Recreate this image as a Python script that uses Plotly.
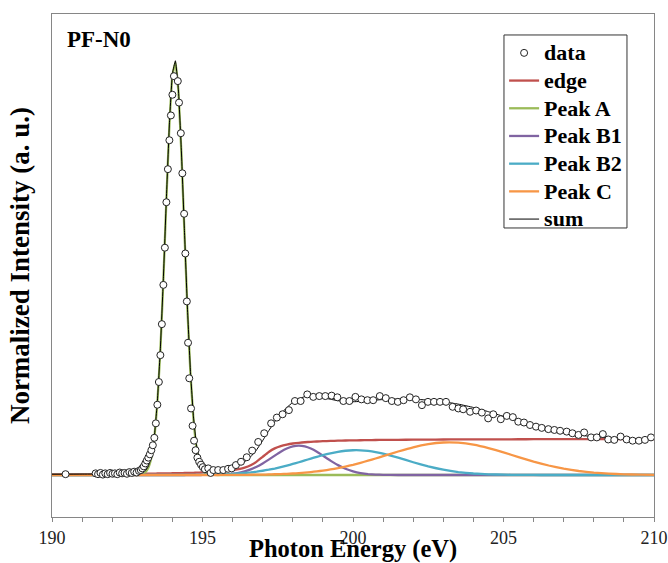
import plotly.graph_objects as go
import numpy as np

# ---------------- data ----------------
data_energy = [190.45, 191.45, 191.53, 191.61, 191.69, 191.77, 191.85, 191.93, 192.01, 192.09,
               192.17, 192.25, 192.33, 192.41, 192.49, 192.57, 192.65, 192.73, 192.81, 192.89,
               192.95, 193.00, 193.05, 193.10, 193.15, 193.20, 193.25, 193.30, 193.35, 193.40,
               193.45, 193.50, 193.55, 193.60, 193.65, 193.70, 193.75, 193.80, 193.85, 193.90,
               193.95, 194.00, 194.05, 194.18, 194.22, 194.28, 194.33, 194.39, 194.43, 194.48,
               194.52, 194.56, 194.62, 194.67, 194.72, 194.77, 194.83, 194.89, 194.95, 195.01,
               195.08, 195.19, 195.27, 195.36, 195.52, 195.69, 195.85,
               195.97, 196.11, 196.28, 196.47, 196.65, 196.85, 197.05, 197.28, 197.47, 197.66,
               197.87, 198.07, 198.26, 198.48, 198.68, 198.88, 199.08, 199.29, 199.48, 199.68,
               199.88, 200.08, 200.28, 200.48, 200.67, 200.89, 201.09, 201.29, 201.49, 201.68,
               201.89, 202.09, 202.29, 202.49, 202.69, 202.89, 203.09, 203.31, 203.50, 203.66,
               203.89, 204.09, 204.28, 204.49, 204.66, 204.91, 205.11, 205.31, 205.49, 205.68,
               205.88, 206.08, 206.27, 206.49, 206.69, 206.88, 207.10, 207.29, 207.49, 207.68,
               207.91, 208.10, 208.30, 208.48, 208.68, 208.89, 209.09, 209.29, 209.50, 209.70,
               209.90]
data_intensity = [0.002, 0.004, 0.002, 0.005, 0.001, 0.004, 0.002, 0.005, 0.003, 0.004,
                  0.002, 0.006, 0.004, 0.005, 0.003, 0.007, 0.005, 0.008, 0.006, 0.010,
                  0.012, 0.016, 0.021, 0.028, 0.035, 0.042, 0.050, 0.060, 0.072, 0.090,
                  0.125, 0.170, 0.225, 0.290, 0.365, 0.460, 0.550, 0.660, 0.740, 0.810,
                  0.870, 0.920, 0.965, 0.953, 0.901, 0.827, 0.730, 0.632, 0.536, 0.420,
                  0.320, 0.234, 0.161, 0.119, 0.083, 0.060, 0.042, 0.032, 0.025, 0.019,
                  0.014, 0.016, 0.005, 0.012, 0.012, 0.012, 0.015,
                  0.016, 0.024, 0.032, 0.043, 0.059, 0.080, 0.101, 0.125, 0.139, 0.147,
                  0.157, 0.179, 0.179, 0.195, 0.189, 0.191, 0.191, 0.192, 0.188, 0.179,
                  0.179, 0.189, 0.183, 0.181, 0.181, 0.191, 0.186, 0.179, 0.177, 0.181,
                  0.188, 0.183, 0.169, 0.177, 0.177, 0.177, 0.177, 0.165, 0.161, 0.159,
                  0.153, 0.156, 0.151, 0.137, 0.147, 0.135, 0.143, 0.140, 0.129, 0.127,
                  0.121, 0.117, 0.114, 0.111, 0.109, 0.107, 0.105, 0.101, 0.097, 0.103,
                  0.091, 0.091, 0.099, 0.086, 0.085, 0.093, 0.086, 0.083, 0.083, 0.085,
                  0.091]

fit_energy = [190.0, 191.0, 192.0, 192.5,
              192.8, 192.9, 193.0, 193.1, 193.2, 193.3, 193.4, 193.5, 193.6, 193.7, 193.8, 193.9,
              194.0, 194.1, 194.2, 194.3, 194.4, 194.5, 194.6, 194.7, 194.8, 194.9, 195.0, 195.1,
              195.2, 195.3, 195.4,
              195.6, 195.8, 196.0, 196.2, 196.4, 196.6, 196.8, 197.0, 197.2, 197.4, 197.6, 197.8,
              198.0, 198.2, 198.4, 198.6, 198.8, 199.0,
              199.25, 199.5, 199.75, 200.0, 200.25, 200.5, 200.75, 201.0,
              201.5, 202.0, 202.5, 203.0, 203.5, 204.0, 204.5, 205.0, 205.5, 206.0, 206.5, 207.0,
              207.5, 208.0, 208.5, 209.0, 209.5, 210.0]

edge = [0.0018, 0.0021, 0.0025, 0.0028,
        0.0030, 0.0030, 0.0031, 0.0032, 0.0033, 0.0034, 0.0035, 0.0036, 0.0037, 0.0038, 0.0039, 0.0040,
        0.0042, 0.0043, 0.0045, 0.0046, 0.0048, 0.0050, 0.0052, 0.0054, 0.0056, 0.0059, 0.0062, 0.0065,
        0.0069, 0.0073, 0.0077,
        0.0087, 0.0101, 0.0118, 0.0144, 0.0180, 0.0236, 0.0323, 0.0440, 0.0557, 0.0644, 0.0700, 0.0736,
        0.0762, 0.0780, 0.0793, 0.0803, 0.0811, 0.0818,
        0.0825, 0.0830, 0.0835, 0.0838, 0.0841, 0.0844, 0.0847, 0.0849,
        0.0852, 0.0855, 0.0857, 0.0859, 0.0861, 0.0862, 0.0863, 0.0864, 0.0865, 0.0866, 0.0867, 0.0867,
        0.0868, 0.0869, 0.0869, 0.0870, 0.0870, 0.0870]

peak_a = [0, 0, 0, 0,
          0.0002, 0.0007, 0.0023, 0.0068, 0.0178, 0.042, 0.090, 0.174, 0.302, 0.472, 0.665, 0.845,
          0.967, 0.998, 0.928, 0.777, 0.587, 0.399, 0.245, 0.135, 0.067, 0.030, 0.0122, 0.0045,
          0.0015, 0.0004, 0.0001,
          0, 0, 0, 0, 0, 0, 0, 0, 0, 0, 0, 0, 0, 0, 0, 0, 0, 0,
          0, 0, 0, 0, 0, 0, 0, 0,
          0, 0, 0, 0, 0, 0, 0, 0, 0, 0, 0, 0, 0, 0, 0, 0, 0, 0]

peak_b1 = [0, 0, 0, 0,
           0, 0, 0, 0, 0, 0, 0, 0, 0, 0, 0, 0,
           0, 0, 0, 0, 0, 0, 0, 0, 0, 0, 0.0001, 0.0001,
           0.0001, 0.0002, 0.0004,
           0.0009, 0.0017, 0.0031, 0.0054, 0.0088, 0.0136, 0.0200, 0.0280, 0.0372, 0.0470, 0.0563, 0.0640,
           0.0692, 0.0710, 0.0692, 0.0640, 0.0563, 0.0470,
           0.0348, 0.0239, 0.0151, 0.0088, 0.0047, 0.0023, 0.0011, 0.0004,
           0, 0, 0, 0, 0, 0, 0, 0, 0, 0, 0, 0, 0, 0, 0, 0, 0, 0]

peak_b2 = [0, 0, 0, 0,
           0, 0, 0, 0, 0, 0, 0, 0, 0, 0, 0, 0,
           0, 0, 0, 0, 0, 0.0002, 0.0002, 0.0003, 0.0003, 0.0004, 0.0005, 0.0006,
           0.0007, 0.0008, 0.0010,
           0.0015, 0.0020, 0.0027, 0.0037, 0.0049, 0.0063, 0.0081, 0.0103, 0.0128, 0.0157, 0.0190, 0.0227,
           0.0267, 0.0309, 0.0353, 0.0397, 0.0440, 0.0480,
           0.0525, 0.0562, 0.0587, 0.0599, 0.0598, 0.0583, 0.0555, 0.0517,
           0.0419, 0.0309, 0.0208, 0.0128, 0.0072, 0.0037, 0.0017, 0.0007, 0.0003, 0.0001, 0, 0,
           0, 0, 0, 0, 0, 0]

peak_c = [0, 0, 0, 0,
          0, 0, 0, 0, 0, 0, 0, 0, 0, 0, 0, 0,
          0, 0, 0, 0, 0, 0, 0, 0, 0, 0, 0, 0,
          0, 0, 0,
          0.0001, 0.0001, 0.0002, 0.0003, 0.0004, 0.0006, 0.0008, 0.0010, 0.0013, 0.0018, 0.0023, 0.0029,
          0.0037, 0.0046, 0.0058, 0.0072, 0.0088, 0.0107,
          0.0135, 0.0167, 0.0205, 0.0247, 0.0295, 0.0346, 0.0400, 0.0456,
          0.0569, 0.0671, 0.0747, 0.0786, 0.0782, 0.0735, 0.0652, 0.0547, 0.0434, 0.0325, 0.0230, 0.0154,
          0.0097, 0.0058, 0.0033, 0.0017, 0.0009, 0.0004]

x_tick_values = list(range(190, 211))
x_tick_labels = [str(v) if v % 5 == 0 else "" for v in x_tick_values]

# sum of the fitted components
fit_sum = (np.array(edge) + np.array(peak_a) + np.array(peak_b1)
           + np.array(peak_b2) + np.array(peak_c))

# ---------------- figure ----------------
SERIF = "Liberation Serif"


def legend_name(txt):
    # larger glyphs than the row-pitch font, to mimic the reference's wide legend text
    return '<span style="font-size:22px">' + txt + '</span>'


fig = go.Figure()

components = [
    ("edge", edge, "#C0504D", 2),
    ("Peak A", peak_a, "#9BBB59", 3),
    ("Peak B1", peak_b1, "#8064A2", 4),
    ("Peak B2", peak_b2, "#4BACC6", 5),
    ("Peak C", peak_c, "#F79646", 6),
]
for name, vals, color, rank in components:
    fig.add_trace(go.Scatter(x=fit_energy, y=vals, name=legend_name(name), mode="lines",
                             line=dict(color=color, width=2.3, shape="spline", smoothing=0.3),
                             legendrank=rank))

fig.add_trace(go.Scatter(x=fit_energy, y=fit_sum, name=legend_name("sum"), mode="lines",
                         line=dict(color="black", width=1, shape="spline", smoothing=0.3),
                         legendrank=7))

fig.add_trace(go.Scatter(x=data_energy, y=data_intensity, name=legend_name("data"), mode="markers",
                         marker=dict(symbol="circle", size=7, color="white",
                                     line=dict(color="#222222", width=1)),
                         legendrank=1))

fig.update_layout(
    width=668, height=563,
    margin=dict(l=52, r=14, t=14, b=46),
    paper_bgcolor="white", plot_bgcolor="white",
    font=dict(family=SERIF, color="black"),
    showlegend=True,
    legend=dict(x=0.751, y=0.9602, xanchor="left", yanchor="top",
                bgcolor="rgba(0,0,0,0)", borderwidth=0,
                font=dict(family=SERIF, size=19, color="black", weight="bold"),
                tracegroupgap=0),
    shapes=[dict(type="rect", xref="paper", yref="paper",
                 x0=0.7508, x1=0.9551, y0=0.5746, y1=0.9583,
                 line=dict(color="#333333", width=1), fillcolor="white", layer="above")],
    annotations=[
        dict(text="<b>PF-N0</b>", xref="paper", yref="paper",
             x=0.0216, y=0.950, xanchor="left", yanchor="middle",
             showarrow=False, font=dict(family=SERIF, size=23, color="black")),
        # x-axis title, placed just under the tick labels as in the reference
        dict(text="<b>Photon Energy (eV)</b>", xref="paper", yref="paper",
             x=0.5, y=0, xanchor="center", yanchor="top", yshift=-16,
             showarrow=False, font=dict(family=SERIF, size=24.5, color="black")),
    ],
)

fig.update_xaxes(
    range=[190, 210], tickmode="array", tickvals=x_tick_values, ticktext=x_tick_labels,
    ticks="outside", ticklen=4, tickcolor="#868686", tickwidth=1,
    showline=True, linecolor="#868686", linewidth=1, mirror=True,
    showgrid=False, zeroline=False, automargin=False,
    tickfont=dict(family=SERIF, size=18, color="#222222"),
)
fig.update_yaxes(
    range=[-0.1016, 1.1154], showticklabels=False, ticks="",
    showline=True, linecolor="#868686", linewidth=1, mirror=True,
    showgrid=False, zeroline=False, automargin=False,
    title=dict(text="Normalized Intensity (a. u.)", standoff=13,
               font=dict(family=SERIF, size=27, color="black", weight="bold")),
)

# remove the default 8px page margin so the 668x563 figure fills the window exactly
fig.write_html("out.html",
               config={"displayModeBar": False},
               post_script="document.body.style.margin='0';document.body.style.overflow='hidden';")
